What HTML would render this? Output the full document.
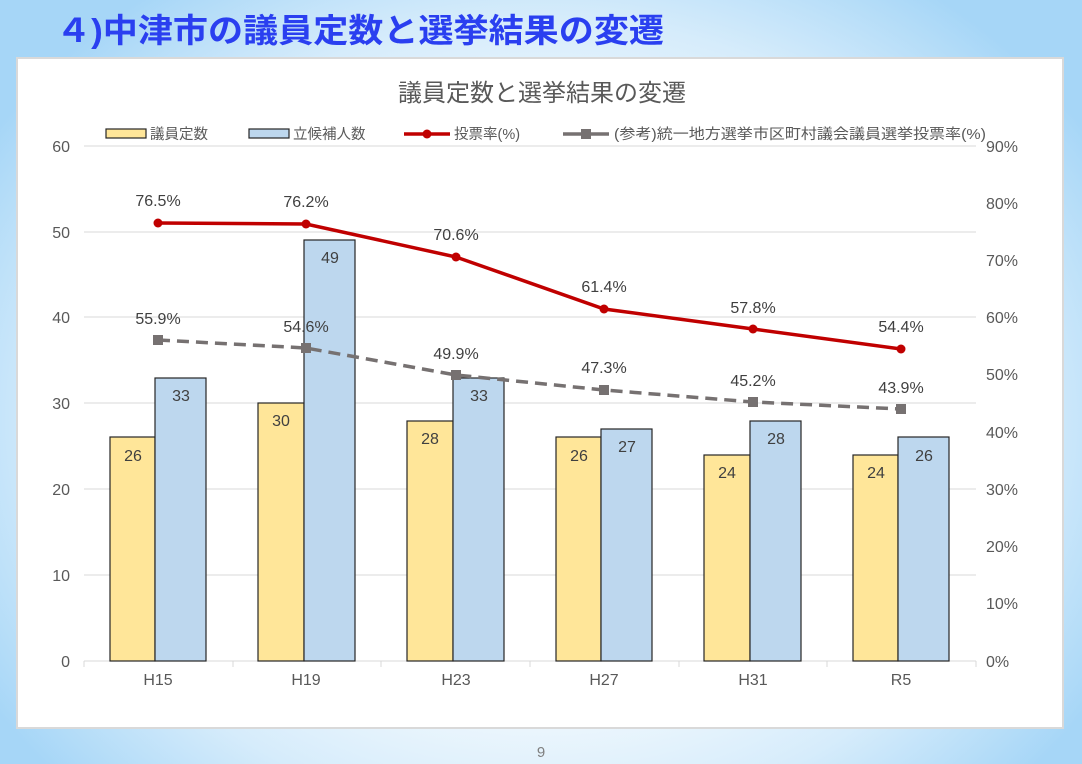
<!DOCTYPE html>
<html><head><meta charset="utf-8"><style>
body{margin:0;width:1082px;height:764px;overflow:hidden;background:radial-gradient(ellipse 60% 70% at 50% 55%,#ffffff 0%,#ffffff 40%,#d6ecfb 75%,#a6d6f7 100%);font-family:"Liberation Sans","Noto Sans CJK JP",sans-serif;}
</style></head><body>
<svg width="1082" height="764" xmlns="http://www.w3.org/2000/svg" style="position:absolute;left:0;top:0;font-family:'Liberation Sans','Noto Sans CJK JP',sans-serif">
<text x="56" y="42" font-size="33" font-weight="bold" fill="#2a3ff0" textLength="608" lengthAdjust="spacingAndGlyphs">４)中津市の議員定数と選挙結果の変遷</text>
<rect x="17" y="58" width="1046" height="670" fill="#fff" stroke="#d9d9d9" stroke-width="2"/>
<text x="542" y="101" font-size="24" fill="#595959" text-anchor="middle">議員定数と選挙結果の変遷</text>
<g stroke="#d9d9d9" stroke-width="1">
<line x1="84" y1="146" x2="976" y2="146"/><line x1="84" y1="232" x2="976" y2="232"/><line x1="84" y1="317" x2="976" y2="317"/><line x1="84" y1="403" x2="976" y2="403"/><line x1="84" y1="489" x2="976" y2="489"/><line x1="84" y1="575" x2="976" y2="575"/><line x1="84" y1="661" x2="976" y2="661"/>
<line x1="84" y1="661" x2="84" y2="667"/><line x1="233" y1="661" x2="233" y2="667"/><line x1="381" y1="661" x2="381" y2="667"/><line x1="530" y1="661" x2="530" y2="667"/><line x1="679" y1="661" x2="679" y2="667"/><line x1="827" y1="661" x2="827" y2="667"/><line x1="976" y1="661" x2="976" y2="667"/>
</g>
<g font-size="16" fill="#595959" text-anchor="end">
<text x="70" y="152">60</text><text x="70" y="238">50</text><text x="70" y="323">40</text><text x="70" y="409">30</text><text x="70" y="495">20</text><text x="70" y="581">10</text><text x="70" y="667">0</text>
</g>
<g font-size="16" fill="#595959">
<text x="986" y="152">90%</text><text x="986" y="209">80%</text><text x="986" y="266">70%</text><text x="986" y="323">60%</text><text x="986" y="380">50%</text><text x="986" y="438">40%</text><text x="986" y="495">30%</text><text x="986" y="552">20%</text><text x="986" y="609">10%</text><text x="986" y="667">0%</text>
</g>
<g font-size="16" fill="#595959" text-anchor="middle">
<text x="158" y="685">H15</text><text x="306" y="685">H19</text><text x="456" y="685">H23</text><text x="604" y="685">H27</text><text x="753" y="685">H31</text><text x="901" y="685">R5</text>
</g>
<g stroke="#262626" stroke-width="1.2">
<rect x="110" y="437" width="45" height="224" fill="#ffe699"/><rect x="155" y="378" width="51" height="283" fill="#bdd7ee"/>
<rect x="258" y="403" width="46" height="258" fill="#ffe699"/><rect x="304" y="240" width="51" height="421" fill="#bdd7ee"/>
<rect x="407" y="421" width="46" height="240" fill="#ffe699"/><rect x="453" y="378" width="51" height="283" fill="#bdd7ee"/>
<rect x="556" y="437" width="45" height="224" fill="#ffe699"/><rect x="601" y="429" width="51" height="232" fill="#bdd7ee"/>
<rect x="704" y="455" width="46" height="206" fill="#ffe699"/><rect x="750" y="421" width="51" height="240" fill="#bdd7ee"/>
<rect x="853" y="455" width="45" height="206" fill="#ffe699"/><rect x="898" y="437" width="51" height="224" fill="#bdd7ee"/>
</g>
<g font-size="16" fill="#404040" text-anchor="middle">
<text x="133" y="461">26</text><text x="181" y="401">33</text>
<text x="281" y="426">30</text><text x="330" y="263">49</text>
<text x="430" y="444">28</text><text x="479" y="401">33</text>
<text x="579" y="461">26</text><text x="627" y="452">27</text>
<text x="727" y="478">24</text><text x="776" y="444">28</text>
<text x="876" y="478">24</text><text x="924" y="461">26</text>
</g>
<polyline points="158,340 306,348 456,375 604,390 753,402 901,409" fill="none" stroke="#767171" stroke-width="3.5" stroke-dasharray="12,7"/>
<g fill="#767171"><rect x="153" y="335" width="10" height="10"/><rect x="301" y="343" width="10" height="10"/><rect x="451" y="370" width="10" height="10"/><rect x="599" y="385" width="10" height="10"/><rect x="748" y="397" width="10" height="10"/><rect x="896" y="404" width="10" height="10"/></g>
<polyline points="158,223 306,224 456,257 604,309 753,329 901,349" fill="none" stroke="#c00000" stroke-width="3.5"/>
<g fill="#c00000"><circle cx="158" cy="223" r="4.5"/><circle cx="306" cy="224" r="4.5"/><circle cx="456" cy="257" r="4.5"/><circle cx="604" cy="309" r="4.5"/><circle cx="753" cy="329" r="4.5"/><circle cx="901" cy="349" r="4.5"/></g>
<g font-size="16" fill="#404040" text-anchor="middle">
<text x="158" y="206">76.5%</text><text x="306" y="207">76.2%</text><text x="456" y="240">70.6%</text><text x="604" y="292">61.4%</text><text x="753" y="313">57.8%</text><text x="901" y="332">54.4%</text>
<text x="158" y="324">55.9%</text><text x="306" y="332">54.6%</text><text x="456" y="359">49.9%</text><text x="604" y="373">47.3%</text><text x="753" y="386">45.2%</text><text x="901" y="393">43.9%</text>
</g>
<g font-size="14.5" fill="#595959">
<rect x="106" y="129" width="40" height="9" fill="#ffe699" stroke="#262626" stroke-width="1.2"/><text x="150" y="139">議員定数</text>
<rect x="249" y="129" width="40" height="9" fill="#bdd7ee" stroke="#262626" stroke-width="1.2"/><text x="293" y="139">立候補人数</text>
<line x1="404" y1="134" x2="450" y2="134" stroke="#c00000" stroke-width="3.5"/><circle cx="427" cy="134" r="4.5" fill="#c00000"/><text x="454" y="139">投票率(%)</text>
<line x1="563" y1="134" x2="609" y2="134" stroke="#767171" stroke-width="3.5"/><rect x="581" y="129" width="10" height="10" fill="#767171"/><text x="614" y="139" textLength="372" lengthAdjust="spacingAndGlyphs">(参考)統一地方選挙市区町村議会議員選挙投票率(%)</text>
</g>
<text x="541" y="757" font-size="15" fill="#7f7f7f" text-anchor="middle">9</text>
</svg>
</body></html>
